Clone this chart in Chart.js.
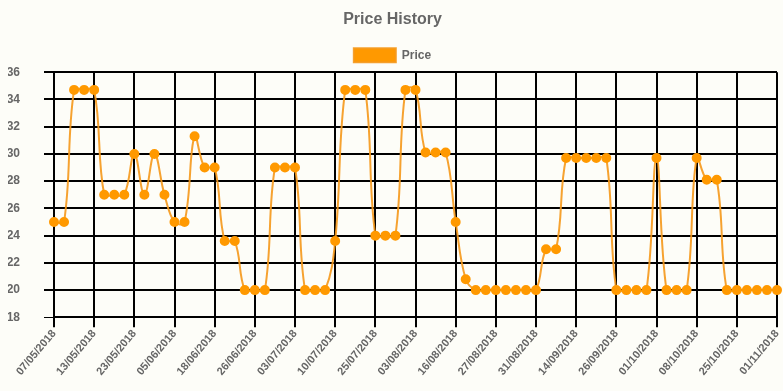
<!DOCTYPE html>
<html>
<head>
<meta charset="utf-8">
<title>Price History</title>
<script src="https://cdn.jsdelivr.net/npm/chart.js@4/dist/chart.umd.min.js"></script>
<style>
  html, body { margin: 0; padding: 0; background: #fdfdf8; }
  #wrap { width: 783px; height: 391px; position: relative; }
</style>
</head>
<body>
<div id="wrap"><canvas id="chart-price"></canvas></div>
<script>
// ── DATOS ─────────────────────────────────────

const FECHAS = [
  "07/05/2018", "08/05/2018", "10/05/2018", "12/05/2018",
  "13/05/2018", "15/05/2018", "18/05/2018", "21/05/2018",
  "23/05/2018", "26/05/2018", "29/05/2018", "02/06/2018",
  "05/06/2018", "08/06/2018", "11/06/2018", "15/06/2018",
  "18/06/2018", "20/06/2018", "22/06/2018", "24/06/2018",
  "26/06/2018", "28/06/2018", "30/06/2018", "02/07/2018",
  "03/07/2018", "05/07/2018", "07/07/2018", "09/07/2018",
  "10/07/2018", "14/07/2018", "18/07/2018", "22/07/2018",
  "25/07/2018", "27/07/2018", "30/07/2018", "01/08/2018",
  "03/08/2018", "06/08/2018", "09/08/2018", "13/08/2018",
  "16/08/2018", "19/08/2018", "22/08/2018", "25/08/2018",
  "27/08/2018", "28/08/2018", "29/08/2018", "30/08/2018",
  "31/08/2018", "04/09/2018", "07/09/2018", "11/09/2018",
  "14/09/2018", "17/09/2018", "20/09/2018", "23/09/2018",
  "26/09/2018", "27/09/2018", "28/09/2018", "30/09/2018",
  "01/10/2018", "03/10/2018", "05/10/2018", "06/10/2018",
  "08/10/2018", "12/10/2018", "16/10/2018", "21/10/2018",
  "25/10/2018", "27/10/2018", "29/10/2018", "31/10/2018",
  "01/11/2018"
];

const PRECIOS = [
  25, 25, 34.7, 34.7,
  34.7, 27, 27, 27,
  30, 27, 30, 27,
  25, 25, 31.3, 29,
  29, 23.6, 23.6, 20,
  20, 20, 29, 29,
  29, 20, 20, 20,
  23.6, 34.7, 34.7, 34.7,
  24, 24, 24, 34.7,
  34.7, 30.1, 30.1, 30.1,
  25, 20.8, 20, 20,
  20, 20, 20, 20,
  20, 23, 23, 29.7,
  29.7, 29.7, 29.7, 29.7,
  20, 20, 20, 20,
  29.7, 20, 20, 20,
  29.7, 28.1, 28.1, 20,
  20, 20, 20, 20,
  20
];

const Y_MIN = 18;
const Y_MAX = 36;
const Y_PASO = 2;

// ── ESTILO ────────────────────────────────────

const NARANJA = "#ff9900";
const GRIS = "#666666";
const FUENTE = "'Liberation Sans', Arial, Helvetica, sans-serif";

Chart.defaults.font.family = FUENTE;
Chart.defaults.font.weight = "bold";
Chart.defaults.font.size = 12;
Chart.defaults.color = GRIS;

// ── GRAFICO ───────────────────────────────────

const ctx = document.getElementById("chart-price").getContext("2d");
new Chart(ctx, {
  type: "line",
  data: {
    labels: FECHAS,
    datasets: [{
      label: "Price",
      data: PRECIOS,
      borderColor: "rgba(245,152,25,0.9)",
      backgroundColor: NARANJA,
      pointBackgroundColor: NARANJA,
      pointBorderColor: NARANJA,
      borderWidth: 2,
      pointRadius: 4,
      tension: 0.4,
      fill: false,
    }]
  },
  options: {
    responsive: true,
    maintainAspectRatio: false,
    animation: false,
    layout: { padding: { left: 8, right: 6, top: 0, bottom: 13 } },
    plugins: {
      title: {
        display: true,
        text: "Price History",
        color: GRIS,
        font: { size: 16, weight: "bold" },
        padding: { top: 10, bottom: 9 },
      },
      legend: {
        labels: {
          boxWidth: 42,
          boxHeight: 14,
          color: GRIS,
          font: { size: 12, weight: "bold" },
        }
      },
      tooltip: { enabled: false },
    },
    scales: {
      x: {
        ticks: {
          autoSkip: true,
          maxTicksLimit: 19,
          minRotation: 50,
          maxRotation: 50,
          padding: 0,
          font: { size: 11, weight: "bold" },
        },
        grid: { color: "#000", lineWidth: 2, tickLength: 10 },
        border: { color: "#000", width: 2 },
        // las etiquetas giradas no deben empujar el área del gráfico
        afterFit: scale => {
          scale.paddingLeft = 0;
          scale.paddingRight = 0;
        },
      },
      y: {
        min: Y_MIN,
        max: Y_MAX,
        ticks: { stepSize: Y_PASO, padding: 24 },
        grid: {
          color: "#000",
          lineWidth: c => (c.index === 0 ? 1 : 2),
          tickLength: 10,
        },
        border: { display: false },
        // ancho fijo del eje (el padding se cuenta doble en fit)
        afterFit: scale => { scale.width = 46; },
      }
    }
  }
});
</script>
</body>
</html>
